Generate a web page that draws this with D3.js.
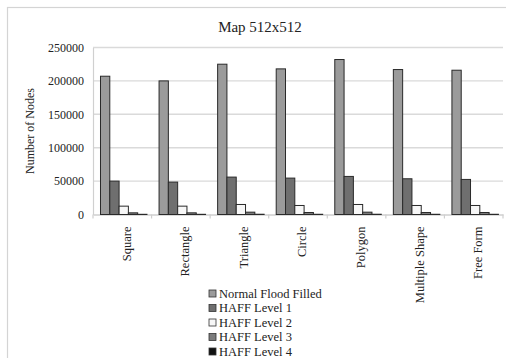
<!DOCTYPE html>
<html>
<head>
<meta charset="utf-8">
<script src="https://cdn.jsdelivr.net/npm/d3@7"></script>
<style>
  html, body { margin: 0; padding: 0; background: #fff; }
  svg { display: block; }
  text { font-family: "Liberation Serif", "DejaVu Serif", serif; fill: #222; }
</style>
</head>
<body>
<svg id="chart" width="506" height="358"></svg>
<script>
// Shapes mapped on a 512x512 grid
const categories = ["Square", "Rectangle", "Triangle", "Circle", "Polygon", "Multiple Shape", "Free Form"];
const seriesNames = ["Normal Flood Filled", "HAFF Level 1", "HAFF Level 2", "HAFF Level 3", "HAFF Level 4"];
const normalFlood = [207000, 200000, 225000, 218000, 232000, 217000, 216000];
const haffLevel1  = [50000, 48500, 56000, 54500, 57000, 53500, 52500];
const haffLevel2  = [12500, 12500, 15000, 13500, 15000, 13500, 13500];
const haffLevel3  = [2500, 2500, 3500, 3000, 3500, 3000, 3000];
const haffLevel4  = [300, 300, 400, 350, 400, 350, 350];
const yTicks = [0, 50000, 100000, 150000, 200000, 250000];

const seriesValues = [normalFlood, haffLevel1, haffLevel2, haffLevel3, haffLevel4];
const fills = ["#9b9b9b", "#6f6f6f", "#f7f7f7", "#7c7c7c", "#111111"];

const svg = d3.select("#chart");

// outer chart frame
svg.append("rect")
  .attr("x", 7.5).attr("y", 7.5)
  .attr("width", 540).attr("height", 400)
  .attr("fill", "none").attr("stroke", "#d4d4d4").attr("stroke-width", 1.2);

const plot = { left: 93, right: 503, top: 47.5, bottom: 214.5 };

const x0 = d3.scaleBand().domain(categories).range([plot.left, plot.right]).paddingInner(0).paddingOuter(0);
const x1 = d3.scaleBand().domain(seriesNames).range([0, x0.bandwidth()])
  .paddingInner(0).paddingOuter(0.65).align(0.62);
const y = d3.scaleLinear().domain([0, 250000]).range([plot.bottom, plot.top]);

// horizontal gridlines
svg.append("g").selectAll("line").data(yTicks.filter(d => d > 0)).join("line")
  .attr("x1", plot.left).attr("x2", plot.right)
  .attr("y1", d => y(d)).attr("y2", d => y(d))
  .attr("stroke", "#dadada").attr("stroke-width", 1.4);

// y axis
const yAxis = svg.append("g").attr("transform", `translate(${plot.left},0)`)
  .call(d3.axisLeft(y).tickValues(yTicks).tickSize(0).tickPadding(9).tickFormat(d3.format("d")));
yAxis.select(".domain").attr("stroke", "#d0d0d0").attr("stroke-width", 1.2);
yAxis.selectAll("text").style("font-size", "12px").attr("fill", "#333");

// x axis with category labels rotated
const xAxis = svg.append("g").attr("transform", `translate(0,${plot.bottom})`)
  .call(d3.axisBottom(x0).tickSize(0).tickFormat(""));
xAxis.select(".domain").attr("stroke", "#cfcfcf").attr("stroke-width", 1.4);
svg.append("g").selectAll("line").data(d3.range(categories.length + 1)).join("line")
  .attr("x1", i => plot.left + i * x0.bandwidth()).attr("x2", i => plot.left + i * x0.bandwidth())
  .attr("y1", plot.bottom).attr("y2", plot.bottom + 4)
  .attr("stroke", "#cfcfcf").attr("stroke-width", 1.2);

svg.append("g").selectAll("text").data(categories).join("text")
  .attr("transform", d => `translate(${x0(d) + x0.bandwidth() / 2 + 4},${plot.bottom + 12}) rotate(-90)`)
  .attr("text-anchor", "end")
  .attr("dy", "0.35em")
  .style("font-size", "12.5px")
  .text(d => d);

// bars
const groups = svg.append("g").selectAll("g").data(categories).join("g")
  .attr("transform", d => `translate(${x0(d)},0)`);
groups.selectAll("rect")
  .data((c, ci) => seriesNames.map((s, si) => ({ s, si, v: seriesValues[si][ci] })))
  .join("rect")
  .attr("x", d => x1(d.s))
  .attr("width", x1.bandwidth())
  .attr("y", d => y(d.v))
  .attr("height", d => plot.bottom - y(d.v))
  .attr("fill", d => fills[d.si])
  .attr("stroke", "#2a2a2a")
  .attr("stroke-width", 1);

// title
svg.append("text")
  .attr("x", 260).attr("y", 32)
  .attr("text-anchor", "middle")
  .style("font-size", "15px")
  .text("Map 512x512");

// y axis title
svg.append("text")
  .attr("transform", `translate(34,131) rotate(-90)`)
  .attr("text-anchor", "middle")
  .style("font-size", "12px")
  .text("Number of Nodes");

// legend
const legend = svg.append("g").selectAll("g").data(seriesNames).join("g")
  .attr("transform", (d, i) => `translate(209,${293.5 + i * 14.5})`);
legend.append("rect")
  .attr("x", 0).attr("y", -3.5).attr("width", 7).attr("height", 7)
  .attr("fill", (d, i) => fills[i]).attr("stroke", "#333").attr("stroke-width", 0.8);
legend.append("text")
  .attr("x", 10).attr("dy", "0.35em")
  .style("font-size", "12.5px")
  .text(d => d);
</script>
</body>
</html>
